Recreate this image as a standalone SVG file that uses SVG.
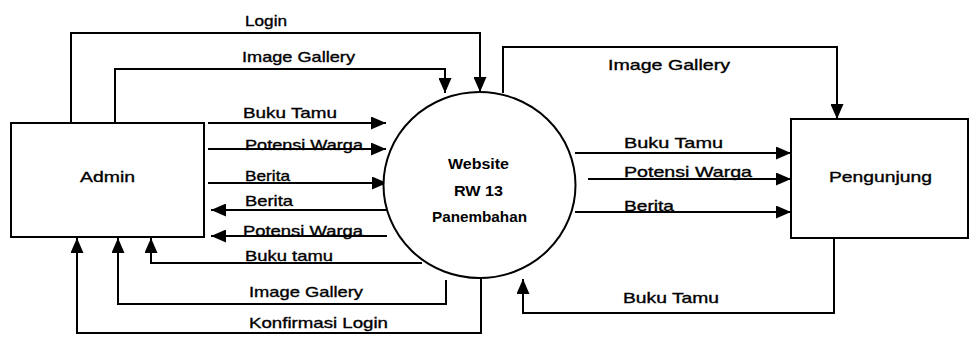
<svg xmlns="http://www.w3.org/2000/svg" width="970" height="337" viewBox="0 0 970 337">
<style>
.box{fill:#fff;stroke:#000;stroke-width:2}
.ln{fill:none;stroke:#000;stroke-width:2;marker-end:url(#ah)}
text{font-family:"Liberation Sans",Arial,sans-serif;font-size:15px;fill:#000;stroke:#000;stroke-width:0.35}
.c{font-size:14px;font-weight:bold;stroke-width:0}
</style>
<defs>
<marker id="ah" markerUnits="userSpaceOnUse" markerWidth="16" markerHeight="13" refX="15" refY="6.5" orient="auto">
<path d="M0,0 L15,6.5 L0,13 z" fill="#000"/>
</marker>
</defs>
<rect width="970" height="337" fill="#fff"/>
<g id="connectors">
<path class="ln" d="M71,123 V33 H480 V92"/>
<path class="ln" d="M115,123 V69 H445 V93"/>
<path class="ln" d="M208,123 H386"/>
<path class="ln" d="M208,149 H386"/>
<path class="ln" d="M208,183 H387"/>
<path class="ln" d="M387,210 H211"/>
<path class="ln" d="M387,236 H211"/>
<path class="ln" d="M422,263 H151 V238"/>
<path class="ln" d="M446,280 V304 H118 V238"/>
<path class="ln" d="M481,278 V333 H77 V238"/>
<path class="ln" d="M503,93 V47 H837 V119"/>
<path class="ln" d="M575,153 H791"/>
<path class="ln" d="M588,179 H791"/>
<path class="ln" d="M575,212 H791"/>
<path class="ln" d="M834,238 V313 H523 V279"/>
<text x="245" y="26" textLength="42" lengthAdjust="spacingAndGlyphs">Login</text>
<text x="242" y="62" textLength="113" lengthAdjust="spacingAndGlyphs">Image Gallery</text>
<text x="243" y="118" textLength="94" lengthAdjust="spacingAndGlyphs">Buku Tamu</text>
<text x="245" y="150" textLength="118" lengthAdjust="spacingAndGlyphs">Potensi Warga</text>
<text x="245" y="181" textLength="45" lengthAdjust="spacingAndGlyphs">Berita</text>
<text x="245" y="206" textLength="48" lengthAdjust="spacingAndGlyphs">Berita</text>
<text x="243" y="236" textLength="120" lengthAdjust="spacingAndGlyphs">Potensi Warga</text>
<text x="245" y="261" textLength="88" lengthAdjust="spacingAndGlyphs">Buku tamu</text>
<text x="249" y="297" textLength="114" lengthAdjust="spacingAndGlyphs">Image Gallery</text>
<text x="249" y="328" textLength="139" lengthAdjust="spacingAndGlyphs">Konfirmasi Login</text>
<text x="608" y="70" textLength="122" lengthAdjust="spacingAndGlyphs">Image Gallery</text>
<text x="624" y="148" textLength="99" lengthAdjust="spacingAndGlyphs">Buku Tamu</text>
<text x="624" y="177" textLength="128" lengthAdjust="spacingAndGlyphs">Potensi Warga</text>
<text x="624" y="211" textLength="50" lengthAdjust="spacingAndGlyphs">Berita</text>
<text x="623" y="303" textLength="96" lengthAdjust="spacingAndGlyphs">Buku Tamu</text>
</g>
<g id="admin">
<rect class="box" x="11" y="123" width="193" height="114"/>
<text x="80" y="182" textLength="55" lengthAdjust="spacingAndGlyphs">Admin</text>
</g>
<g id="website">
<ellipse class="box" cx="479.5" cy="185" rx="96" ry="93"/>
<text class="c" x="448" y="169" textLength="61" lengthAdjust="spacingAndGlyphs">Website</text>
<text class="c" x="454" y="196" textLength="49" lengthAdjust="spacingAndGlyphs">RW 13</text>
<text class="c" x="432" y="222" textLength="95" lengthAdjust="spacingAndGlyphs">Panembahan</text>
</g>
<g id="pengunjung">
<rect class="box" x="791" y="119" width="177" height="119"/>
<text x="829" y="182" textLength="103" lengthAdjust="spacingAndGlyphs">Pengunjung</text>
</g>
</svg>
